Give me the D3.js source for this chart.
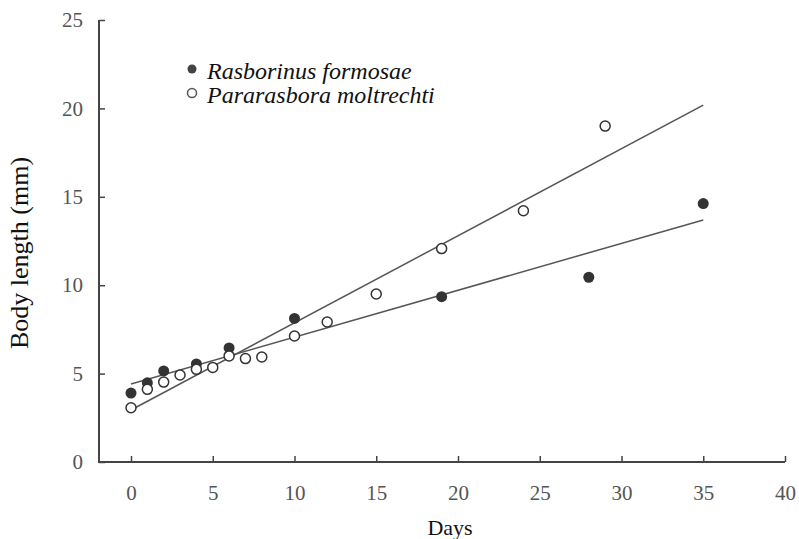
<!DOCTYPE html>
<html>
<head>
<meta charset="utf-8">
<script src="https://cdn.jsdelivr.net/npm/d3@7"></script>
<style>
  body { margin: 0; background: #fff; }
  svg { font-family: "Liberation Serif", "Times New Roman", serif; }
</style>
</head>
<body>
<svg id="chart" width="799" height="539"></svg>
<script>
const width = 799;
const height = 539;

// Rasborinus formosae (filled)
const daysR = [0, 1, 2, 4, 6, 10, 19, 28, 35];
const lenR = [3.9, 4.48, 5.15, 5.55, 6.45, 8.12, 9.35, 10.45, 14.62];
// Pararasbora moltrechti (open)
const daysP = [0, 1, 2, 3, 4, 5, 6, 7, 8, 10, 12, 15, 19, 24, 29];
const lenP = [3.07, 4.11, 4.52, 4.92, 5.24, 5.35, 6.0, 5.85, 5.94, 7.13, 7.92, 9.5, 12.07, 14.21, 19.0];

// fitted lines as drawn (start / end)
const fitR = [[0, 4.41], [35, 13.69]];
const fitP = [[0, 2.94], [35, 20.19]];

const xTicks = [0, 5, 10, 15, 20, 25, 30, 35, 40];
const yTicks = [0, 5, 10, 15, 20, 25];
const legendNames = ["Rasborinus formosae", "Pararasbora moltrechti"];

const svg = d3.select("#chart");

const x = d3.scaleLinear().domain([0, 40]).range([131, 785]);
const y = d3.scaleLinear().domain([0, 25]).range([462, 20]);
const axisLeftX = 99;

// x axis
const gx = svg.append("g")
    .attr("transform", `translate(0,${y(0)})`)
    .call(d3.axisBottom(x).tickValues(xTicks).tickSize(-6).tickSizeOuter(0).tickPadding(23));
gx.select(".domain").remove();
gx.selectAll(".tick line").attr("stroke", "#444").attr("stroke-width", 1.5);
gx.selectAll(".tick text")
    .attr("fill", "#555")
    .style("font-size", "21px")
    .style("font-family", "Liberation Serif, serif");

// y axis
const gy = svg.append("g")
    .attr("transform", `translate(${axisLeftX},0)`)
    .call(d3.axisLeft(y).tickValues(yTicks).tickSize(-6).tickSizeOuter(0).tickPadding(16));
gy.select(".domain").remove();
gy.selectAll(".tick line").attr("stroke", "#444").attr("stroke-width", 1.5);
gy.selectAll(".tick text")
    .attr("fill", "#555")
    .style("font-size", "21px")
    .style("font-family", "Liberation Serif, serif");

// axis lines
svg.append("path")
    .attr("d", `M${axisLeftX},${y(25)}V${y(0)}H${x(40)}`)
    .attr("fill", "none")
    .attr("stroke", "#444")
    .attr("stroke-width", 2);

// axis titles
svg.append("text")
    .attr("x", 450)
    .attr("y", 535)
    .attr("text-anchor", "middle")
    .style("font-size", "22px")
    .attr("fill", "#111")
    .text("Days");

svg.append("text")
    .attr("transform", "translate(28,253) rotate(-90)")
    .attr("text-anchor", "middle")
    .style("font-size", "26px")
    .attr("fill", "#111")
    .text("Body length (mm)");

// fitted lines
const line = d3.line().x(d => x(d[0])).y(d => y(d[1]));
svg.selectAll(".fit")
    .data([fitR, fitP])
    .enter()
    .append("path")
    .attr("class", "fit")
    .attr("d", line)
    .attr("fill", "none")
    .attr("stroke", "#555")
    .attr("stroke-width", 1.5);

// points
svg.selectAll(".ptR")
    .data(daysR.map((d, i) => [d, lenR[i]]))
    .enter()
    .append("circle")
    .attr("class", "ptR")
    .attr("cx", d => x(d[0]))
    .attr("cy", d => y(d[1]))
    .attr("r", 5.5)
    .attr("fill", "#333");

svg.selectAll(".ptP")
    .data(daysP.map((d, i) => [d, lenP[i]]))
    .enter()
    .append("circle")
    .attr("class", "ptP")
    .attr("cx", d => x(d[0]))
    .attr("cy", d => y(d[1]))
    .attr("r", 5)
    .attr("fill", "#fff")
    .attr("stroke", "#333")
    .attr("stroke-width", 1.5);

// legend
const legend = svg.append("g").attr("transform", "translate(192,69)");
legendNames.forEach((name, i) => {
    const g = legend.append("g").attr("transform", `translate(0,${i * 24})`);
    g.append("circle")
        .attr("r", 4.5)
        .attr("fill", i === 0 ? "#444" : "#fff")
        .attr("stroke", i === 0 ? "none" : "#555")
        .attr("stroke-width", 1.5);
    g.append("text")
        .attr("x", 15)
        .attr("y", 9.5)
        .style("font-size", "24px")
        .style("font-style", "italic")
        .attr("fill", "#111")
        .text(name);
});
</script>
</body>
</html>
